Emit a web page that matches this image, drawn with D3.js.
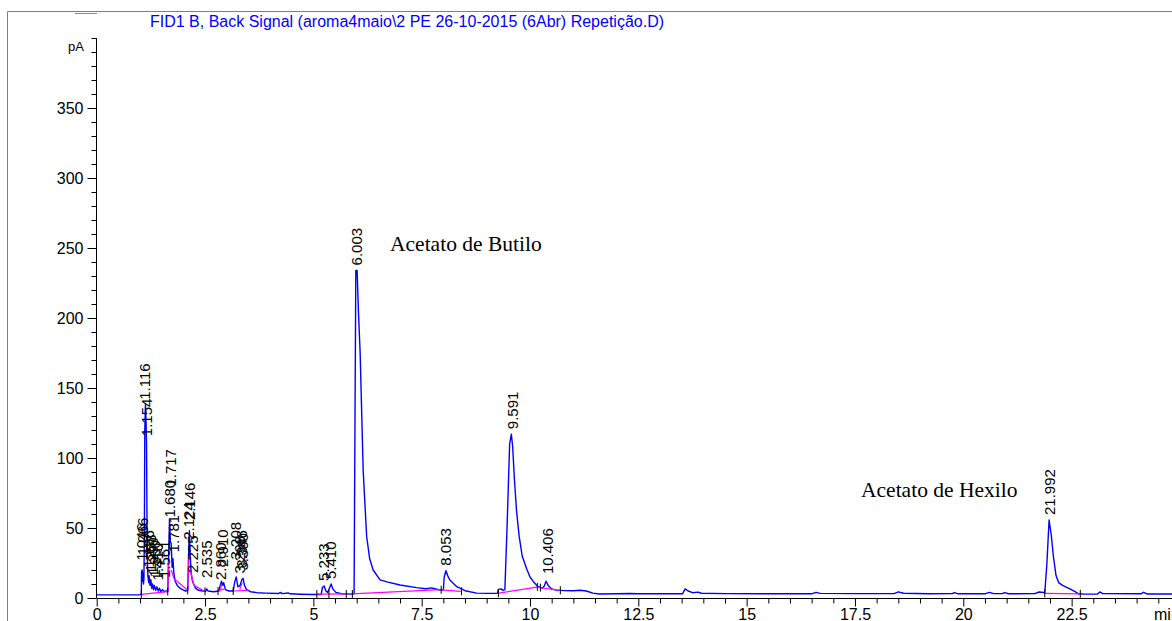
<!DOCTYPE html>
<html>
<head>
<meta charset="utf-8">
<script src="https://cdn.jsdelivr.net/npm/d3@7"></script>
<style>
  html, body { margin: 0; padding: 0; background: #fff; overflow: hidden; }
  svg { display: block; }
</style>
</head>
<body>
<svg id="chart" width="1172" height="621"></svg>
<script>
// FID detector trace: [retention time (min), signal (pA)]
const signal = [
  [0,2.2],[0.5,2.2],[1.0,2.3],[1.03,3],[1.035,19],[1.05,20],[1.06,12],[1.07,18],[1.08,10],[1.09,14],
  [1.10,45],[1.11,120],[1.125,138],[1.14,125],[1.15,110],[1.16,60],[1.17,28],[1.18,16],[1.20,11],
  [1.21,16],[1.23,9],[1.25,13],[1.27,7],[1.29,10],[1.31,6],[1.33,9],[1.36,5.5],[1.39,8],[1.42,5],
  [1.45,7],[1.48,4.5],[1.52,6],[1.56,4.5],[1.60,5],[1.64,4.5],[1.66,30],[1.68,56],[1.70,40],[1.72,39],
  [1.74,22],[1.76,28],[1.78,18],[1.81,12],[1.86,9],[1.92,7],[1.98,6],[2.05,5],[2.10,5.5],[2.12,30],
  [2.14,48],[2.16,30],[2.18,18],[2.21,12],[2.24,10],[2.28,7],[2.35,5.5],[2.45,5],[2.52,5],[2.54,6.5],
  [2.57,5],[2.70,4.5],[2.82,5],[2.86,10],[2.88,12],[2.91,9],[2.93,11],[2.97,6],[3.05,5],[3.15,5],
  [3.19,12],[3.22,15],[3.26,8],[3.31,9],[3.35,13],[3.38,14],[3.41,9],[3.46,6],[3.55,4.5],[3.7,3.8],
  [3.9,3.5],[4.2,3.2],[4.24,4],[4.28,3.1],[4.42,3.6],[4.46,3],[4.7,2.7],[5.0,2.5],[5.18,2.5],
  [5.21,7.5],[5.25,8.6],[5.29,5],[5.33,4],[5.37,7],[5.41,10],[5.45,6.5],[5.52,4],[5.65,3],[5.9,2.8],
  [5.94,3],[5.96,120],[5.98,234],[6.01,234],[6.04,205],[6.08,175],[6.15,91],[6.23,44],[6.30,28],
  [6.38,20],[6.54,13],[6.7,11.5],[7.0,9.3],[7.38,7.4],[7.6,6.6],[7.72,7.2],[7.78,6.8],[7.92,5.7],
  [8.0,5.8],[8.02,15],[8.06,19.5],[8.10,16],[8.15,12.9],[8.31,8.1],[8.5,5.2],[8.77,3.5],[9.0,3.3],
  [9.25,3.4],[9.27,6.2],[9.33,6.5],[9.38,5.5],[9.42,6],[9.47,50],[9.53,110],[9.57,117],[9.60,108],
  [9.64,85],[9.69,62],[9.75,44],[9.82,30],[9.92,21],[10.0,15],[10.07,12],[10.17,8.5],[10.28,7],
  [10.33,8.5],[10.37,12],[10.42,9],[10.5,6.5],[10.6,5.6],[10.8,5.3],[11.0,5.2],[11.15,5.5],[11.3,5],
  [11.45,3.5],[11.6,2.9],[12.0,3],[12.3,3.2],[12.5,3],[13.0,3],[13.3,3.1],[13.52,3],[13.58,6.5],
  [13.65,5],[13.75,3.8],[13.88,4.2],[13.95,3.4],[14.5,3.1],[15.5,3],[16.5,3],[16.6,4],[16.7,3.3],
  [17.5,3.1],[18.4,3.1],[18.5,4.4],[18.62,3.4],[19.2,3],[19.75,3.2],[19.8,3.8],[19.88,3],[20.5,3],
  [20.6,4],[20.7,3.1],[20.9,3.1],[20.95,3.8],[21.05,3],[21.65,3.1],[21.75,4.3],[21.85,4],[21.88,3.5],
  [21.93,25],[21.98,55.7],[22.03,45],[22.08,29.5],[22.14,16],[22.2,11],[22.3,8.8],[22.46,6.5],
  [22.58,4.5],[22.66,3],[22.8,2.8],[23.1,2.8],[23.15,4.3],[23.22,3.1],[24.1,3],[24.16,4.1],
  [24.24,2.9],[25,2.8],[25.7,2.8]
];

// Integration baselines: [t start, pA start, t end, pA end]
const baselines = [
  [1.03,2.6,1.64,4.6],[1.64,4.6,1.66,26],[1.72,20,1.78,14],[1.78,14,2.10,5.5],[2.10,5.5,2.13,30],
  [2.16,20,2.24,9],[2.24,9,2.50,4.8],[2.80,5,2.95,6.5],[2.86,6,2.88,10],[3.15,5,3.5,5.5],
  [3.30,6,3.36,11],[5.08,2.8,5.76,2.9],[5.88,2.9,7.93,6],[7.96,5.8,8.4,4.8],[9.25,3.3,10.2,8],
  [10.2,7.5,10.7,5.5],[21.88,3.3,22.7,3]
];

// Peak start / end markers: [t, pA]
const markers = [
  [1.03,2.6],[1.64,4.6],[2.10,5.5],[2.50,4.8],[2.80,5],[3.15,5],[5.08,2.8],[5.36,2.85],[5.76,2.9],
  [5.90,2.9],[7.95,5.9],[8.42,4.8],[9.27,3.4],[10.17,8],[10.24,7.4],[10.7,5.5],[21.88,3.3],[22.7,3]
];

// Retention-time labels and the signal level where each label starts (pA)
const peakLabels = ["1.046","1.066","1.196","1.253","1.299","1.350","1.410","1.154","1.116","1.561",
  "1.680","1.717","1.781","2.124","2.146","2.225","2.535","2.860","2.910","3.208","3.298","3.346",
  "3.360","5.233","5.410","6.003","8.053","9.591","10.406","21.992"];
const peakRT = [1.046,1.066,1.196,1.253,1.299,1.350,1.410,1.154,1.116,1.561,1.680,1.717,1.781,2.124,
  2.146,2.225,2.535,2.860,2.910,3.208,3.298,3.346,3.360,5.233,5.410,6.003,8.053,9.591,10.406,21.992];
const labelLevel = [23,27,18,15,13,11,9,112,138,10.7,54,76,29,38,52,14.3,10.7,9.3,18.6,24,14,18,16,
  8.6,10,234,19.5,117,13.5,55.7];

const xMajor = [0,2.5,5,7.5,10,12.5,15,17.5,20,22.5];
const yMajor = [0,50,100,150,200,250,300,350];

const title = "FID1 B, Back Signal (aroma4maio\\2 PE 26-10-2015 (6Abr) Repetição.D)";
const compounds = ["Acetato de Butilo", "Acetato de Hexilo"];
const compoundRT = [6.77, 17.64];
const compoundLevel = [248, 72];

const svg = d3.select("#chart");
const W = 1172, H = 621;
const sans = "'Liberation Sans', Arial, sans-serif";
const serif = "'Liberation Serif', 'Times New Roman', serif";

const x = d3.scaleLinear().domain([0, 25]).range([96.7, 96.7 + 25 * 43.33]);
const y = d3.scaleLinear().domain([0, 400]).range([598, 38]);

// frame lines
svg.append("line").attr("x1", 7.5).attr("x2", W).attr("y1", 11.5).attr("y2", 11.5)
  .attr("stroke", "#808080").attr("stroke-width", 1);
svg.append("line").attr("x1", 7.5).attr("x2", 7.5).attr("y1", 11.5).attr("y2", H)
  .attr("stroke", "#808080").attr("stroke-width", 1);
svg.append("line").attr("x1", 75).attr("x2", 97).attr("y1", 13.5).attr("y2", 13.5)
  .attr("stroke", "#8080ff").attr("stroke-width", 1);

svg.append("text").attr("x", 150).attr("y", 27).attr("fill", "#0000ff")
  .style("font-family", sans).style("font-size", "16px").text(title);

// axes
const axisG = svg.append("g").attr("font-family", sans);

const xAxis = axisG.append("g").attr("transform", "translate(0,598.5)")
  .call(d3.axisBottom(x).tickValues(xMajor).tickSize(8).tickPadding(2).tickFormat(d => String(d)));
const xMinor = axisG.append("g").attr("transform", "translate(0,598.5)")
  .call(d3.axisBottom(x).tickValues(d3.range(0, 25.01, 0.5).filter(v => xMajor.indexOf(v) < 0))
    .tickSize(5).tickFormat(""));
xMinor.select(".domain").remove();
xAxis.select(".domain").attr("d", `M${x(0)},0H${W}`);

const yAxis = axisG.append("g").attr("transform", "translate(96.5,0)")
  .call(d3.axisLeft(y).tickValues(yMajor).tickSize(9).tickPadding(4));
const yMinor = axisG.append("g").attr("transform", "translate(96.5,0)")
  .call(d3.axisLeft(y).tickValues(d3.range(0, 401, 10).filter(v => yMajor.indexOf(v) < 0))
    .tickSize(5).tickFormat(""));
yMinor.select(".domain").remove();
yAxis.select(".domain").attr("d", `M0,${y(400)}V${y(0)}`);

axisG.selectAll("text").attr("fill", "#000").style("font-size", "16px").style("font-family", sans);
axisG.selectAll("line, path").attr("stroke", "#000");

svg.append("text").attr("x", 84).attr("y", 51).attr("text-anchor", "end")
  .style("font-family", sans).style("font-size", "13px").text("pA");
svg.append("text").attr("x", 1154).attr("y", 620)
  .style("font-family", sans).style("font-size", "16px").text("min");

// trace
const line = d3.line().x(d => x(d[0])).y(d => y(d[1]));
svg.append("path").datum(signal).attr("d", line)
  .attr("fill", "none").attr("stroke", "#0000ff").attr("stroke-width", 1.4)
  .attr("stroke-linejoin", "round");

// integration baselines
svg.append("g").selectAll("line").data(baselines).join("line")
  .attr("x1", d => x(d[0])).attr("y1", d => y(d[1]))
  .attr("x2", d => x(d[2])).attr("y2", d => y(d[3]))
  .attr("stroke", "#ff00ff").attr("stroke-width", 1.2);

// peak start/end markers
svg.append("g").selectAll("line").data(markers).join("line")
  .attr("x1", d => x(d[0])).attr("x2", d => x(d[0]))
  .attr("y1", d => y(d[1]) - 4).attr("y2", d => y(d[1]) + 4)
  .attr("stroke", "#000").attr("stroke-width", 1);

// retention-time labels
svg.append("g").selectAll("text").data(peakLabels).join("text")
  .attr("transform", (d, i) => `translate(${x(peakRT[i])},${y(labelLevel[i]) - 5}) rotate(-90)`)
  .attr("dy", "0.35em")
  .style("font-family", sans).style("font-size", "15px").attr("fill", "#000")
  .text(d => d);

// compound names
svg.append("g").selectAll("text").data(compounds).join("text")
  .attr("x", (d, i) => x(compoundRT[i])).attr("y", (d, i) => y(compoundLevel[i]))
  .style("font-family", serif).style("font-size", "21.5px").attr("fill", "#000")
  .text(d => d);
</script>
</body>
</html>
